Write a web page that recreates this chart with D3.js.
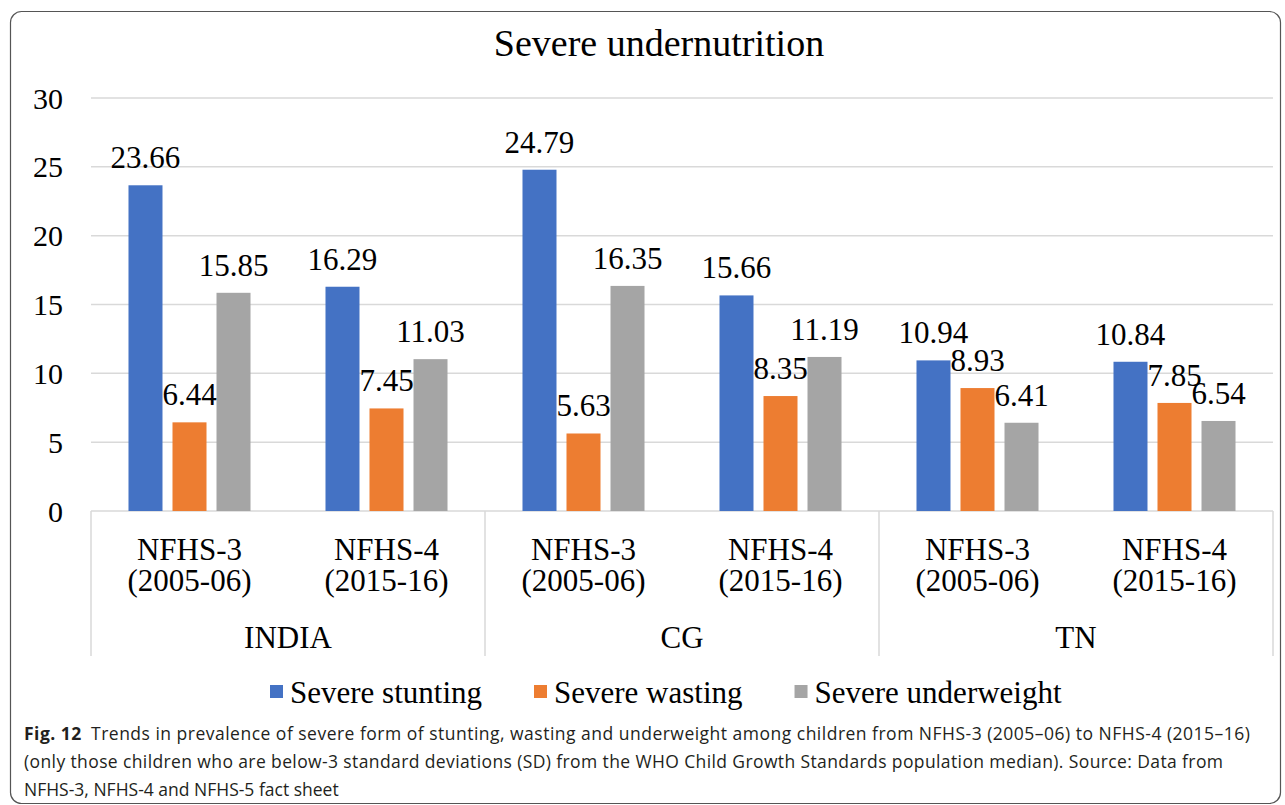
<!DOCTYPE html>
<meta charset="utf-8">
<style>
  body { margin: 0; background: #fff; }
  svg text { font-family: "Liberation Serif", "Times New Roman", serif; fill: #000; }
  svg text.cap { font-family: "Open Sans", "Noto Sans", sans-serif; fill: #231f20; }
</style>
<body>
<div id="chart"></div>
<script src="https://d3js.org/d3.v7.min.js"></script>
<script>

var regions = ["INDIA", "CG", "TN"];
var surveys = ["NFHS-3", "NFHS-4"];
var surveyYears = ["(2005-06)", "(2015-16)"];
var seriesNames = ["Severe stunting", "Severe wasting", "Severe underweight"];
var seriesColors = ["#4472C4", "#ED7D31", "#A5A5A5"];

// one entry per region/survey, in the order INDIA 3, INDIA 4, CG 3, CG 4, TN 3, TN 4
var stunting = [23.66, 16.29, 24.79, 15.66, 10.94, 10.84];
var wasting = [6.44, 7.45, 5.63, 8.35, 8.93, 7.85];
var underweight = [15.85, 11.03, 16.35, 11.19, 6.41, 6.54];
var yTicks = [0, 5, 10, 15, 20, 25, 30];

var captionLines = [
  "Trends in prevalence of severe form of stunting, wasting and underweight among children from NFHS-3 (2005\u201306) to NFHS-4 (2015\u201316)",
  "(only those children who are below-3 standard deviations (SD) from the WHO Child Growth Standards population median). Source: Data from",
  "NFHS-3, NFHS-4 and NFHS-5 fact sheet"
];

var w = 1285, h = 805;
var plotLeft = 91, plotRight = 1273, plotTop = 98, plotBottom = 511;

var rows = [];
regions.forEach(function(r, i) {
  surveys.forEach(function(s, j) {
    var k = i * 2 + j;
    rows.push({key: r + "|" + s, region: r, survey: s, years: surveyYears[j],
      values: [stunting[k], wasting[k], underweight[k]]});
  });
});

var svg = d3.select("#chart").append("svg")
    .attr("width", w)
    .attr("height", h);

// outer frame
svg.append("rect")
    .attr("x", 10.5).attr("y", 11.5)
    .attr("width", 1270).attr("height", 792)
    .attr("rx", 11)
    .attr("fill", "none")
    .attr("stroke", "#555")
    .attr("stroke-width", 1.2);

var y = d3.scaleLinear().domain([0, 30]).range([plotBottom, plotTop]);

var x0 = d3.scaleBand()
    .domain(rows.map(function(d) { return d.key; }))
    .range([plotLeft, plotRight]);

var x1 = d3.scaleBand()
    .domain(d3.range(3))
    .range([0, x0.bandwidth()])
    .paddingInner(10 / 44)
    .paddingOuter(0.852);

var xRegion = d3.scaleBand().domain(regions).range([plotLeft, plotRight]);

// gridlines
svg.append("g")
  .selectAll("line")
  .data(yTicks.filter(function(t) { return t > 0; }))
  .join("line")
    .attr("x1", plotLeft).attr("x2", plotRight)
    .attr("y1", function(d) { return y(d); })
    .attr("y2", function(d) { return y(d); })
    .attr("stroke", "#d9d9d9")
    .attr("stroke-width", 1.5);

// y tick labels
svg.append("g")
  .selectAll("text")
  .data(yTicks)
  .join("text")
    .attr("x", 63)
    .attr("y", function(d) { return y(d); })
    .attr("dy", "0.35em")
    .attr("text-anchor", "end")
    .attr("font-size", 30)
    .text(function(d) { return d; });

// category axis: baseline and region dividers
svg.append("line")
    .attr("x1", plotLeft).attr("x2", plotRight)
    .attr("y1", plotBottom).attr("y2", plotBottom)
    .attr("stroke", "#d9d9d9").attr("stroke-width", 1.5);

svg.append("g")
  .selectAll("line")
  .data(regions.concat(["end"]))
  .join("line")
    .attr("x1", function(d, i) { return i < 3 ? xRegion(d) : plotRight; })
    .attr("x2", function(d, i) { return i < 3 ? xRegion(d) : plotRight; })
    .attr("y1", plotBottom)
    .attr("y2", 656)
    .attr("stroke", "#d9d9d9").attr("stroke-width", 1.5);

// bars
var groups = svg.append("g")
  .selectAll("g")
  .data(rows)
  .join("g")
    .attr("transform", function(d) { return "translate(" + x0(d.key) + ",0)"; });

groups.selectAll("rect")
  .data(function(d) { return d.values; })
  .join("rect")
    .attr("x", function(d, i) { return x1(i); })
    .attr("width", x1.bandwidth())
    .attr("y", function(d) { return y(d); })
    .attr("height", function(d) { return y(0) - y(d); })
    .attr("fill", function(d, i) { return seriesColors[i]; });

// value labels drawn after all bars
var labelLayer = svg.append("g");
rows.forEach(function(r) {
  r.values.forEach(function(v, i) {
    labelLayer.append("text")
      .attr("x", x0(r.key) + x1(i) + x1.bandwidth() / 2)
      .attr("y", y(v) - 17)
      .attr("text-anchor", "middle")
      .attr("font-size", 31)
      .text(v.toFixed(2));
  });
});

// category labels
var catLabels = svg.append("g")
  .selectAll("text")
  .data(rows)
  .join("text")
    .attr("text-anchor", "middle")
    .attr("font-size", 31);
catLabels.append("tspan").attr("y", 560).attr("x", function(d) { return x0(d.key) + x0.bandwidth() / 2; })
    .text(function(d) { return d.survey; });
catLabels.append("tspan").attr("y", 591).attr("x", function(d) { return x0(d.key) + x0.bandwidth() / 2; })
    .text(function(d) { return d.years; });

svg.append("g")
  .selectAll("text")
  .data(regions)
  .join("text")
    .attr("x", function(d) { return xRegion(d) + xRegion.bandwidth() / 2; })
    .attr("y", 648)
    .attr("text-anchor", "middle")
    .attr("font-size", 31)
    .text(function(d) { return d; });

// title
svg.append("text")
    .attr("x", 659)
    .attr("y", 56)
    .attr("text-anchor", "middle")
    .attr("font-size", 38)
    .text("Severe undernutrition");

// legend
var legend = svg.append("g");
var lx = 270;
seriesNames.forEach(function(name, i) {
  legend.append("rect")
    .attr("x", lx).attr("y", 685)
    .attr("width", 13).attr("height", 13)
    .attr("fill", seriesColors[i]);
  var t = legend.append("text")
    .attr("x", lx + 20).attr("y", 703)
    .attr("font-size", 31)
    .text(name);
  lx += 20 + t.node().getComputedTextLength() + 52;
});

// caption (first two lines are justified in the source)
var cap = svg.append("g");
var c1 = cap.append("text").attr("class", "cap").attr("x", 24).attr("y", 740).attr("font-size", 17.5)
    .attr("textLength", 1226).attr("lengthAdjust", "spacing");
c1.append("tspan").attr("font-weight", "bold").text("Fig. 12");
c1.append("tspan").text("\u2002" + captionLines[0]);
cap.append("text").attr("class", "cap").attr("x", 24).attr("y", 768).attr("font-size", 17.5)
    .attr("textLength", 1199).attr("lengthAdjust", "spacing")
    .text(captionLines[1]);
cap.append("text").attr("class", "cap").attr("x", 24).attr("y", 796).attr("font-size", 17.5)
    .text(captionLines[2]);

</script>
</body>
